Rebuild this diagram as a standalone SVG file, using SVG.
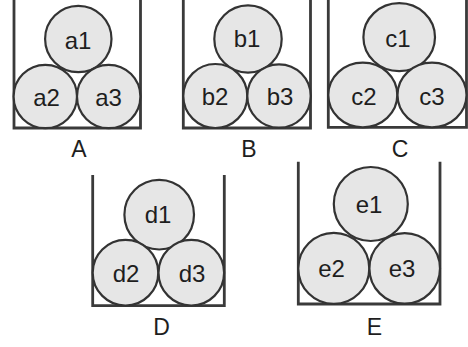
<svg xmlns="http://www.w3.org/2000/svg" width="468" height="347" viewBox="0 0 468 347">
<style>
.wall{fill:none;stroke:#3a3a3a;stroke-width:2.8;stroke-linecap:butt}
.ball{fill:#e6e6e6;stroke:#333;stroke-width:2.2}
.lbl{font-family:"Liberation Sans",Arial,sans-serif;font-size:24px;fill:#1e1e1e;text-anchor:middle}
.cap{font-family:"Liberation Sans",Arial,sans-serif;font-size:23px;fill:#1e1e1e;text-anchor:middle}
</style>
<rect width="468" height="347" fill="#fff"/>
<g id="panelA">
<path class="wall" d="M14,0 V128 H140.5 V0"/>
<g id="a1"><circle class="ball" cx="78.3" cy="39" r="33.2"/><text class="lbl" x="78" y="48.5">a1</text></g>
<g id="a2"><circle class="ball" cx="45.3" cy="96.5" r="31.7"/><text class="lbl" x="46.5" y="106.3">a2</text></g>
<g id="a3"><circle class="ball" cx="108.7" cy="96.5" r="31.7"/><text class="lbl" x="108.5" y="106.3">a3</text></g>
<text class="cap" x="79" y="157">A</text>
</g>
<g id="panelB">
<path class="wall" d="M183.3,0 V128 H310.5 V0"/>
<g id="b1"><circle class="ball" cx="248" cy="39" r="33.7"/><text class="lbl" x="247" y="47">b1</text></g>
<g id="b2"><circle class="ball" cx="215.3" cy="96" r="32"/><text class="lbl" x="215" y="104.5">b2</text></g>
<g id="b3"><circle class="ball" cx="279" cy="96" r="31.7"/><text class="lbl" x="280" y="104.5">b3</text></g>
<text class="cap" x="249" y="157">B</text>
</g>
<g id="panelC">
<path class="wall" d="M328.3,0 V127.3 H466.5 V0"/>
<g id="c1"><ellipse class="ball" cx="399.2" cy="37.2" rx="35.8" ry="34"/><text class="lbl" x="398" y="46.5">c1</text></g>
<g id="c2"><ellipse class="ball" cx="362.8" cy="95" rx="34.5" ry="32.3"/><text class="lbl" x="364" y="105">c2</text></g>
<g id="c3"><ellipse class="ball" cx="432" cy="95" rx="34.5" ry="32.3"/><text class="lbl" x="432" y="105">c3</text></g>
<text class="cap" x="400" y="157">C</text>
</g>
<g id="panelD">
<path class="wall" d="M92.7,175 V305.7 H224.3 V175"/>
<g id="d1"><circle class="ball" cx="159.2" cy="214.7" r="34.8"/><text class="lbl" x="158" y="223">d1</text></g>
<g id="d2"><circle class="ball" cx="125.5" cy="272.7" r="32.8"/><text class="lbl" x="126" y="281.5">d2</text></g>
<g id="d3"><circle class="ball" cx="191.3" cy="272.7" r="32.8"/><text class="lbl" x="192" y="281.5">d3</text></g>
<text class="cap" x="161.5" y="335">D</text>
</g>
<g id="panelE">
<path class="wall" d="M298.3,161.7 V304 H440 V161.7"/>
<g id="e1"><circle class="ball" cx="370.8" cy="204" r="37"/><text class="lbl" x="369" y="212.5">e1</text></g>
<g id="e2"><circle class="ball" cx="333.8" cy="268.4" r="35.5"/><text class="lbl" x="331.5" y="277">e2</text></g>
<g id="e3"><circle class="ball" cx="404.7" cy="268.4" r="35.3"/><text class="lbl" x="402" y="277">e3</text></g>
<text class="cap" x="374.5" y="335">E</text>
</g>
</svg>
